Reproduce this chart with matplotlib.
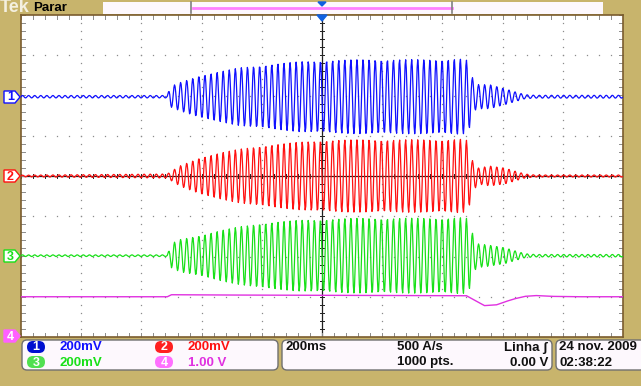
import numpy as np
import matplotlib
matplotlib.use("Agg")
import matplotlib.pyplot as plt
from matplotlib.patches import Polygon, FancyBboxPatch, Rectangle

# scope record: 1000 points over 10 divisions (200 ms/div, 500 S/s)
n_pts = 1000
carrier_hz = 49.5
sec_per_div = 0.2

# envelopes, (time div, half amplitude div)
ch1_t = [0.0, 2.43, 2.48, 2.64, 2.97, 3.31, 3.64, 3.97, 4.30, 4.63, 4.97, 5.63, 6.30, 6.96, 7.29, 7.43, 7.49, 7.56, 7.79, 8.04, 8.21, 8.37, 8.54, 10.0]
ch1_a = [0.03, 0.03, 0.25, 0.35, 0.52, 0.62, 0.72, 0.77, 0.82, 0.87, 0.89, 0.92, 0.92, 0.92, 0.94, 0.90, 0.50, 0.30, 0.30, 0.20, 0.12, 0.05, 0.035, 0.035]
ch2_t = [0.0, 2.43, 2.50, 2.64, 2.97, 3.31, 3.64, 3.97, 4.30, 4.63, 4.97, 5.63, 6.30, 6.96, 7.29, 7.43, 7.49, 7.60, 7.79, 8.04, 8.21, 8.37, 8.54, 10.0]
ch2_a = [0.02, 0.05, 0.12, 0.25, 0.45, 0.57, 0.67, 0.74, 0.79, 0.84, 0.88, 0.90, 0.90, 0.90, 0.92, 0.88, 0.40, 0.20, 0.25, 0.20, 0.12, 0.05, 0.025, 0.025]
ch3_t = [0.0, 2.43, 2.50, 2.64, 2.97, 3.31, 3.64, 3.97, 4.30, 4.63, 4.97, 5.63, 6.30, 6.96, 7.29, 7.43, 7.49, 7.56, 7.79, 8.04, 8.21, 8.37, 8.54, 10.0]
ch3_a = [0.02, 0.02, 0.30, 0.40, 0.50, 0.62, 0.72, 0.80, 0.84, 0.88, 0.90, 0.93, 0.93, 0.93, 0.95, 0.92, 0.60, 0.30, 0.26, 0.20, 0.12, 0.05, 0.03, 0.03]
# channel 4 is a slow signal (div)
ch4_t = [0.0, 2.43, 2.50, 3.0, 5.0, 7.40, 7.55, 7.70, 7.90, 8.05, 8.20, 8.37, 8.55, 8.80, 9.20, 10.0]
ch4_v = [0.0, 0.0, 0.05, 0.045, 0.035, 0.025, -0.10, -0.22, -0.20, -0.12, -0.05, 0.01, 0.03, 0.01, 0.0, 0.0]

offsets = [1.97, 0.0, -1.98, -3.0]
colors = ["#1010ff", "#ff1010", "#18e018", "#e030e0"]
scales = ["200mV", "200mV", "200mV", "1.00 V"]

tan = "#c8b46c"
grat = "#8c8c8c"

t = np.arange(n_pts) * 10.0 / n_pts
phase = 2 * np.pi * carrier_hz * sec_per_div * t

fig = plt.figure(figsize=(6.41, 3.86), dpi=100, facecolor=tan)
ax = fig.add_axes([21 / 641, (386 - 337) / 386, 602 / 641, 322 / 386])
ax.set_facecolor("white")
ax.set_xlim(0, 10)
ax.set_ylim(-4, 4)
ax.set_xticks([])
ax.set_yticks([])
for s in ax.spines.values():
    s.set_color("#7a5c2e")
    s.set_linewidth(1.2)

# graticule
for gx in range(1, 10):
    if gx == 5:
        continue
    yy = np.arange(-4, 4.01, 0.2)
    ax.plot(np.full_like(yy, gx), yy, ls="none", marker="s", ms=0.9, color=grat, mew=0)
for gy in range(-3, 4):
    if gy == 0:
        continue
    xx = np.arange(0, 10.01, 0.2)
    ax.plot(xx, np.full_like(xx, gy), ls="none", marker="s", ms=0.9, color=grat, mew=0)
ax.axvline(5, color="#202020", lw=0.9, zorder=1)
ax.axhline(0, color="#202020", lw=0.9, zorder=1)
for v in np.arange(0, 10.01, 0.2):
    ax.plot([v, v], [-0.06, 0.06], color="#202020", lw=0.7)
    ax.plot([v, v], [4, 3.9], color=grat, lw=0.7)
    ax.plot([v, v], [-4, -3.9], color=grat, lw=0.7)
for v in np.arange(-4, 4.01, 0.2):
    ax.plot([4.96, 5.04], [v, v], color="#202020", lw=0.7)
    ax.plot([0, 0.06], [v, v], color=grat, lw=0.7)
    ax.plot([10, 9.94], [v, v], color=grat, lw=0.7)

# traces
envs = [(ch1_t, ch1_a), (ch2_t, ch2_a), (ch3_t, ch3_a)]
for i, (et, ea) in enumerate(envs):
    y = offsets[i] + np.interp(t, et, ea) * np.sin(phase)
    ax.plot(t, y, color=colors[i], lw=0.9, zorder=3)
ax.plot(t, offsets[3] + np.interp(t, ch4_t, ch4_v), color=colors[3], lw=1.0, zorder=3)

# overlay in pixel units for the scope decorations
ov = fig.add_axes([0, 0, 1, 1], zorder=5)
ov.set_xlim(0, 641)
ov.set_ylim(386, 0)
ov.axis("off")

ov.text(0, 8, "Tek", color="#f4f0e0", fontsize=13, fontweight="bold", family="Liberation Sans", va="center")
ov.text(33, 8, "Parar", color="black", fontsize=9.5, fontweight="bold", family="Liberation Sans", va="center")
ov.add_patch(Rectangle((103, 2), 500, 11.5, facecolor="#fdf8fd", edgecolor="none"))
ov.plot([193, 452], [7.5, 7.5], color="#ff80ff", lw=2)
ov.plot([191, 191], [2, 13], color="#808080", lw=1.2)
ov.plot([452, 452], [2, 13], color="#808080", lw=1.2)
ov.add_patch(Polygon([(318, 2), (326, 2), (322, 6)], closed=True, color="#1060e0"))
ov.add_patch(Polygon([(317, 15), (327, 15), (322, 21)], closed=True, color="#1060e0"))

# channel markers on the left
mark_y = [97, 176, 256, 336]
for i in range(4):
    y0 = mark_y[i]
    pts = [(4, y0 - 6), (15, y0 - 6), (20, y0), (15, y0 + 6), (4, y0 + 6)]
    if i == 3:
        ov.add_patch(Polygon(pts, closed=True, facecolor="#ff60ff", edgecolor="#ff60ff"))
        ov.text(10.5, y0 + 0.5, "4", color="white", fontsize=9, fontweight="bold", ha="center", va="center", family="Liberation Sans")
    else:
        ov.add_patch(Polygon(pts, closed=True, facecolor="white", edgecolor=colors[i], lw=1))
        ov.text(10.5, y0 + 0.5, str(i + 1), color=colors[i], fontsize=9, fontweight="bold", ha="center", va="center", family="Liberation Sans")

# info boxes
for x0, x1 in [(22, 278), (282, 552), (556, 645)]:
    ov.add_patch(FancyBboxPatch((x0, 340), x1 - x0, 30, boxstyle="round,pad=0,rounding_size=5",
                                facecolor="#fdf8fd", edgecolor="#707070", lw=1))

badge_fill = ["#0010d0", "#ff2020", "#50e050", "#ff70ff"]
badge_xy = [(36, 347), (164, 347), (36, 362), (164, 362)]
for i in range(4):
    bx, by = badge_xy[i]
    ov.add_patch(FancyBboxPatch((bx - 9, by - 6), 18, 12, boxstyle="round,pad=0,rounding_size=6",
                                facecolor=badge_fill[i], edgecolor="none"))
    ov.text(bx, by + 0.5, str(i + 1), color="white", fontsize=9, fontweight="bold", ha="center", va="center", family="Liberation Sans")
    ov.text(bx + 24, by + 0.5, scales[i], color=colors[i], fontsize=9.5, fontweight="bold", va="center", family="Liberation Sans")

fk = dict(fontsize=9.5, fontweight="bold", va="center", family="Liberation Sans", color="#101010")
ov.text(286, 347.5, "200ms", **fk)
ov.text(397, 347.5, "500 A/s", **fk)
ov.text(397, 362.5, "1000 pts.", **fk)
ov.text(548, 347.5, "Linha \u0283", ha="right", **fk)
ov.text(548, 362.5, "0.00 V", ha="right", **fk)
ov.text(559, 347.5, "24 nov. 2009", **fk)
ov.text(559, 362.5, "02:38:22", **fk)

fig.savefig("out.png", dpi=100, facecolor=tan)
